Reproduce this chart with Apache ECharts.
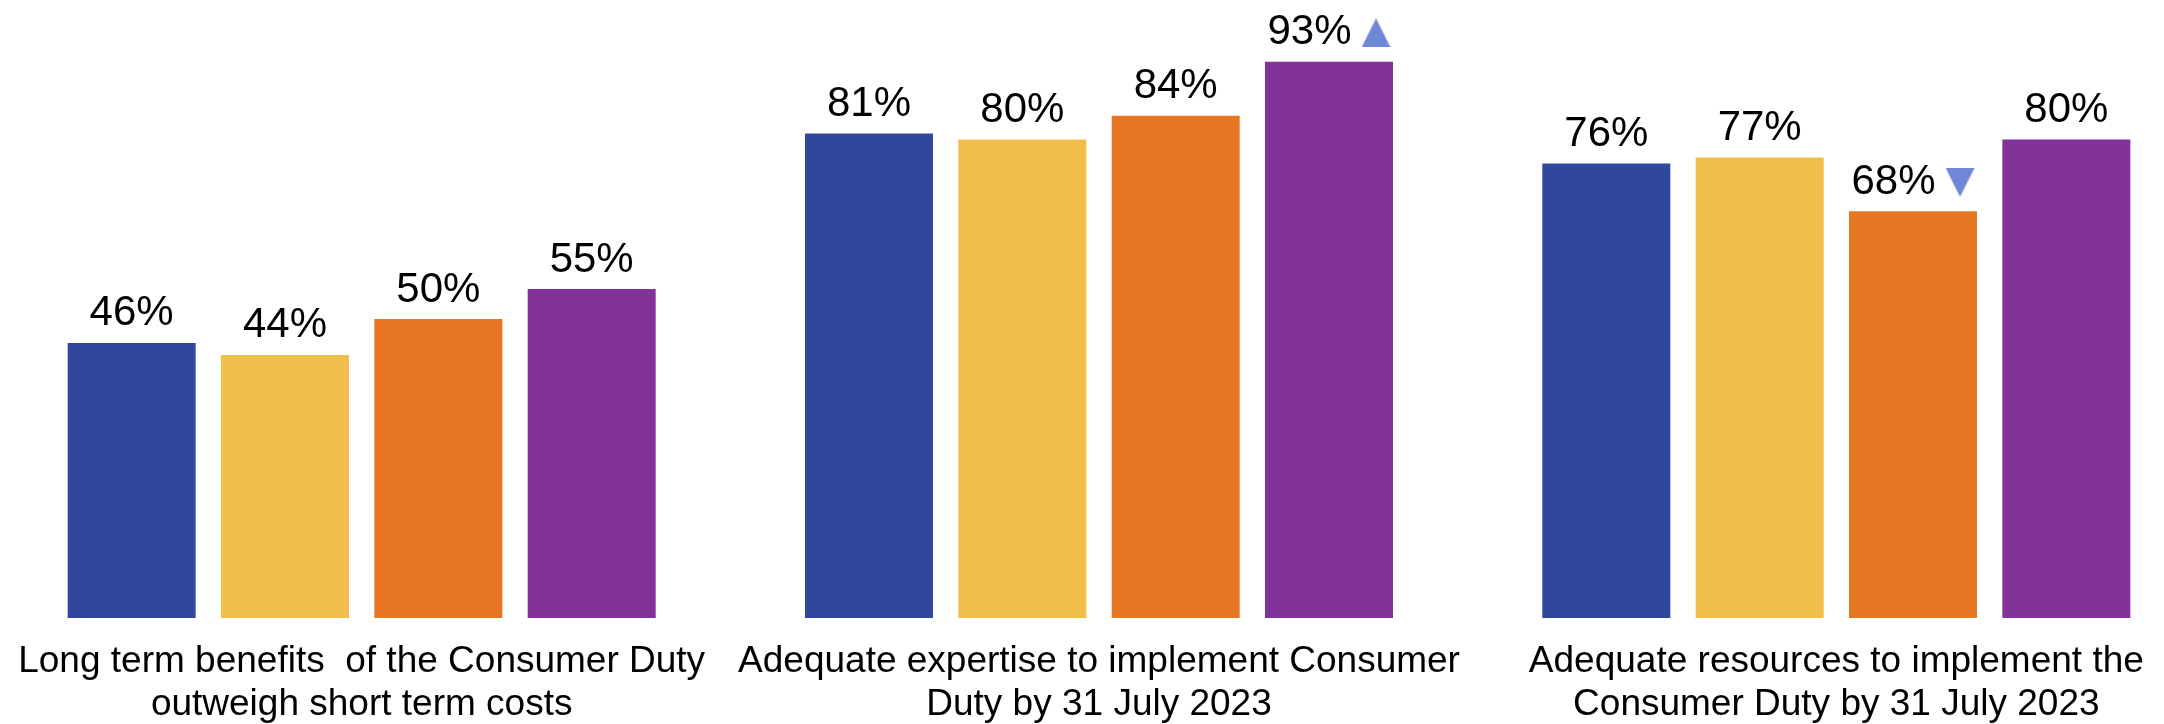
<!DOCTYPE html>
<html>
<head>
<meta charset="utf-8">
<script src="https://cdn.jsdelivr.net/npm/echarts@6/dist/echarts.min.js"></script>
<style>
  html, body { margin: 0; padding: 0; background: #ffffff; }
  #chart { width: 2164px; height: 724px; }
</style>
</head>
<body>
<div id="chart"></div>
<script>
// Survey statements shown along the x axis
const categories = [
  'Long term benefits  of the Consumer Duty\noutweigh short term costs',
  'Adequate expertise to implement Consumer\nDuty by 31 July 2023',
  'Adequate resources to implement the\nConsumer Duty by 31 July 2023'
];

// Share agreeing (%), one array per respondent group
const series1 = [46, 81, 76];
const series2 = [44, 80, 77];
const series3 = [50, 84, 68];
const series4 = [55, 93, 80];

// Significant change markers: 'up', 'down' or null, per series and category
const marks1 = [null, null, null];
const marks2 = [null, null, null];
const marks3 = [null, null, 'down'];
const marks4 = [null, 'up', null];

const seriesNames = ['Series 1', 'Series 2', 'Series 3', 'Series 4'];
const colors = ['#30479B', '#F0BE4B', '#E77722', '#823298'];
const markColor = '#6F87D7';
const font = '"Liberation Sans", Arial, sans-serif';

// Small canvas triangles used as inline label icons
function triangle(dir) {
  const c = document.createElement('canvas');
  c.width = 29; c.height = 29;
  const g = c.getContext('2d');
  g.fillStyle = markColor;
  g.beginPath();
  if (dir === 'up') {
    g.moveTo(14.5, 0); g.lineTo(29, 29); g.lineTo(0, 29);
  } else {
    g.moveTo(0, 0); g.lineTo(29, 0); g.lineTo(14.5, 29);
  }
  g.closePath();
  g.fill();
  return c;
}
const upIcon = triangle('up');
const downIcon = triangle('down');

const valueSets = [series1, series2, series3, series4];
const markSets = [marks1, marks2, marks3, marks4];

const chart = echarts.init(document.getElementById('chart'), null, { renderer: 'canvas' });

const series = valueSets.map((vals, si) => ({
  name: seriesNames[si],
  type: 'bar',
  barWidth: 128,
  barGap: '19.8%',
  itemStyle: { color: colors[si] },
  data: vals.map((v, ci) => ({ value: v, mark: markSets[si][ci] })),
  label: {
    show: true,
    position: 'top',
    distance: 8,
    fontFamily: font,
    fontSize: 42,
    color: '#000000',
    formatter: (p) => {
      const m = p.data.mark;
      if (m === 'up') return '{v|' + p.value + '%}{up|}';
      if (m === 'down') return '{v|' + p.value + '%}{down|}';
      return p.value + '%';
    },
    rich: {
      v: { fontFamily: font, fontSize: 42, color: '#000000', padding: [0, 10, 0, 0] },
      up: { width: 29, height: 29, backgroundColor: { image: upIcon } },
      down: { width: 29, height: 29, backgroundColor: { image: downIcon } }
    }
  }
}));

chart.setOption({
  animation: false,
  backgroundColor: '#ffffff',
  grid: {
    left: -7, width: 2212, top: 20, bottom: 106,
    containLabel: false,
    outerBoundsMode: 'none'
  },
  xAxis: {
    type: 'category',
    data: categories,
    axisLine: { show: false },
    axisTick: { show: false },
    axisLabel: {
      interval: 0,
      margin: 22,
      fontFamily: font,
      fontSize: 37,
      lineHeight: 43,
      color: '#000000'
    }
  },
  yAxis: {
    type: 'value',
    min: 0,
    max: 100,
    show: false
  },
  series: series
});
</script>
</body>
</html>
